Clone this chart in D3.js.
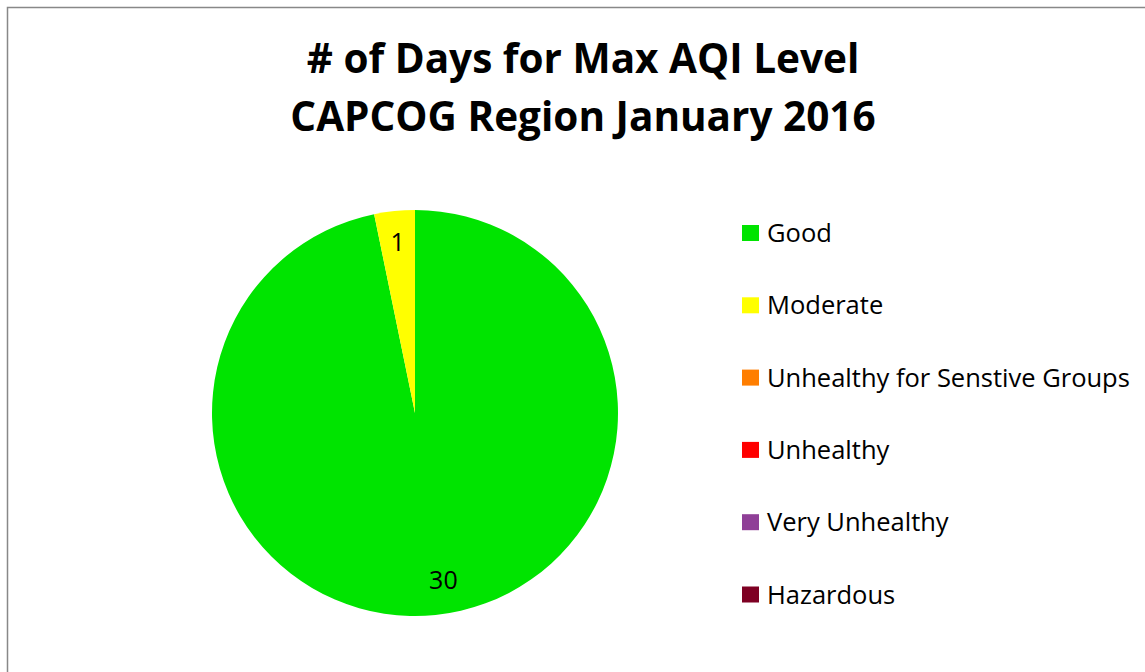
<!DOCTYPE html>
<html>
<head>
<meta charset="utf-8">
<script src="https://d3js.org/d3.v7.min.js"></script>
<style>
  body { margin: 0; background: #fff; }
  text { font-family: "Open Sans", "Noto Sans", sans-serif; fill: #000; }
</style>
</head>
<body>
<div id="pie"></div>
<script>

// data
var categories = ["Good", "Moderate", "Unhealthy for Senstive Groups", "Unhealthy", "Very Unhealthy", "Hazardous"];
var days = [30, 1, 0, 0, 0, 0];
var colors = ["#00e400", "#ffff00", "#ff7e00", "#ff0000", "#8f3f97", "#7e0023"];
var titleLines = ["# of Days for Max AQI Level", "CAPCOG Region January 2016"];

var width = 1145, height = 672;

var svg = d3.select("#pie")
  .append("svg")
    .attr("width", width)
    .attr("height", height);

// chart area border (only top and left show in the frame)
svg.append("rect")
  .attr("x", 7.5)
  .attr("y", 7.5)
  .attr("width", width + 20)
  .attr("height", height + 20)
  .attr("fill", "none")
  .attr("stroke", "#888")
  .attr("stroke-width", 1.5);

// title
svg.selectAll(".title")
  .data(titleLines)
  .enter().append("text")
    .attr("class", "title")
    .attr("x", 583)
    .attr("y", function(d, i) { return 73 + i * 58; })
    .attr("text-anchor", "middle")
    .attr("font-size", "40.5px")
    .attr("font-weight", "bold")
    .text(function(d) { return d; });

var color = d3.scaleOrdinal()
  .domain(categories)
  .range(colors);

var rows = categories.map(function(c, i) { return {name: c, value: days[i]}; });

var radius = 203;
var g = svg.append("g")
  .attr("transform", "translate(415,413)");

var pie = d3.pie()
  .sort(null)
  .value(function(d) { return d.value; });

var arc = d3.arc().innerRadius(0).outerRadius(radius);
var labelArc = d3.arc().innerRadius(172 * 2 - radius).outerRadius(radius);

var slices = pie(rows).filter(function(d) { return d.data.value > 0; });

g.selectAll("path")
  .data(slices)
  .enter().append("path")
    .attr("d", arc)
    .attr("fill", function(d) { return color(d.data.name); });

// data labels (Excel nudges the big slice's label a little off its centroid)
g.selectAll(".lbl")
  .data(slices)
  .enter().append("text")
    .attr("class", "lbl")
    .attr("transform", function(d) {
      var c = labelArc.centroid(d);
      var big = (d.endAngle - d.startAngle) > Math.PI;
      return "translate(" + (c[0] + (big ? 11 : 0)) + "," + (c[1] + (big ? -4 : 0)) + ")";
    })
    .attr("dy", "0.35em")
    .attr("text-anchor", "middle")
    .attr("font-size", "25px")
    .text(function(d) { return d.data.value; });

// legend
var ly = d3.scalePoint()
  .domain(categories)
  .range([233, 594.5]);

var legend = svg.selectAll(".legend")
  .data(categories)
  .enter().append("g")
    .attr("class", "legend")
    .attr("transform", function(d) { return "translate(742," + ly(d) + ")"; });

legend.append("rect")
  .attr("y", -8)
  .attr("width", 17)
  .attr("height", 16)
  .attr("fill", function(d) { return color(d); });

legend.append("text")
  .attr("x", 25)
  .attr("y", 9)
  .attr("font-size", "25.5px")
  .text(function(d) { return d; });

</script>
</body>
</html>
